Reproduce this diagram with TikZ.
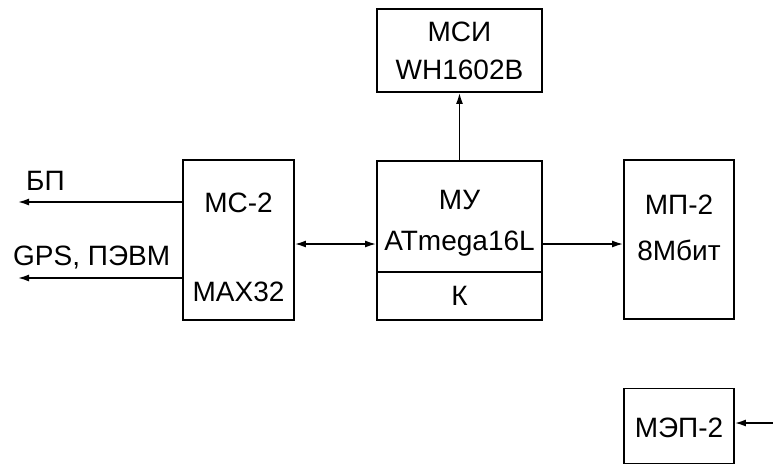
\documentclass[tikz,border=0pt]{standalone}
\usepackage{fontspec}
\setmainfont{Liberation Sans}
\usetikzlibrary{arrows.meta,positioning}
\tikzset{
  blok/.style={rectangle,draw=black,line width=1.8pt,fill=white,inner sep=0pt},
  txt/.style={font=\fontsize{28}{32}\selectfont,inner sep=0pt},
  arrow/.style={-{Latex[length=11pt,width=7pt]},line width=1.6pt},
  dblarrow/.style={{Latex[length=11pt,width=7pt]}-{Latex[length=11pt,width=7pt]},line width=1.6pt}
}

\begin{document}
\begin{tikzpicture}[x=1pt,y=-1pt]
  \useasboundingbox (0,0) rectangle (773,464);
  % blocks
  \node[blok,minimum width=165pt,minimum height=83pt] (msi) at (459.5,50.5) {};
  \node[blok,minimum width=165pt,minimum height=111pt] (mu) at (459.5,216.5) {};
  \node[blok,minimum width=165pt,minimum height=48pt] (k) at (459.5,296) {};
  \node[blok,minimum width=111pt,minimum height=160pt] (mc) at (238.5,240) {};
  \node[blok,minimum width=110pt,minimum height=159pt] (mp) at (679,239.5) {};
  \node[blok,minimum width=110pt,minimum height=75pt] (mep) at (679,426) {};
  % texts
  \node[txt] (msiname) at (459.5,32) {МСИ};
  \node[txt] (msitype) at (459.5,70) {WH1602B};
  \node[txt] (muname) at (459.5,200) {МУ};
  \node[txt] (mutype) at (459.5,244) {ATmega16L};
  \node[txt] (kname) at (k) {К};
  \node[txt] (mcname) at (238.5,203) {МС-2};
  \node[txt] (mctype) at (238.5,292) {MAX32};
  \node[txt] (mpname) at (679,205) {МП-2};
  \node[txt] (mptype) at (679,250) {8Мбит};
  \node[txt] (mepname) at (679,428) {МЭП-2};
  \node[txt,anchor=west] (bplabel) at (26,181) {БП};
  \node[txt,anchor=west] (gpslabel) at (13,258) {GPS, ПЭВМ};
  % connectors
  \coordinate (bp) at (18,202);
  \coordinate (gps) at (18,278);
  \coordinate (bus) at (0,244);
  \coordinate (mepin) at (773,423);
  \draw[arrow] (bp -| mc.west) -- (bp);
  \draw[arrow] (gps -| mc.west) -- (gps);
  \draw[dblarrow] (bus -| mc.east) -- (bus -| mu.west);
  \draw[arrow] (bus -| mu.east) -- (bus -| mp.west);
  \draw[arrow] (mu.north) -- (msi.south);
  \draw[arrow] (mepin) -- (mepin -| mep.east);
\end{tikzpicture}
\end{document}
